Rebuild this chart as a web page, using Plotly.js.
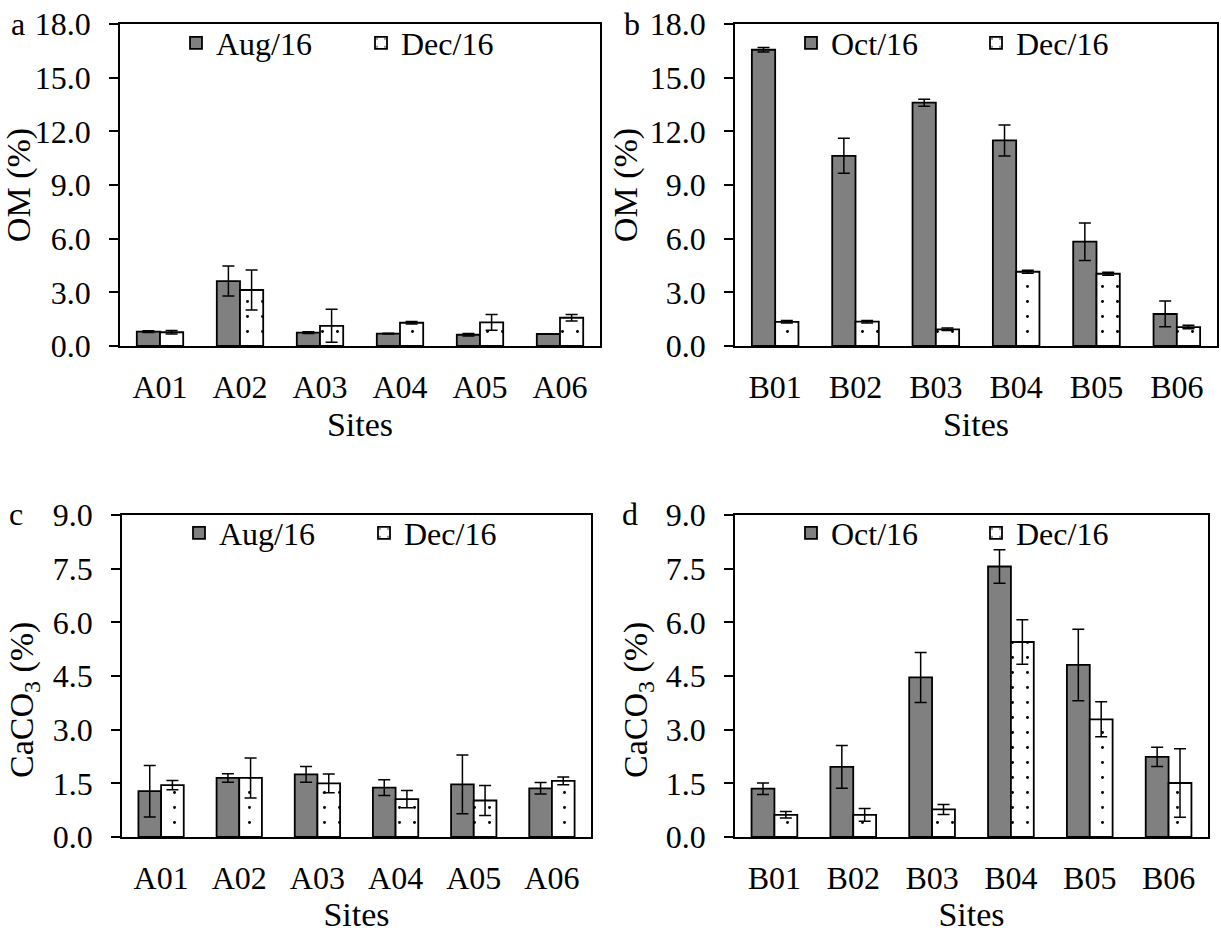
<!DOCTYPE html>
<html>
<head>
<meta charset="utf-8">
<script src="https://cdn.plot.ly/plotly-3.0.1.min.js"></script>
<style>html,body{margin:0;padding:0;background:#fff;}#chart{width:1221px;height:933px;}</style>
</head>
<body>
<div id="chart"></div>
<script>
// ---- data ----
var sitesA = ['A01', 'A02', 'A03', 'A04', 'A05', 'A06'];
var sitesB = ['B01', 'B02', 'B03', 'B04', 'B05', 'B06'];

var omAug      = [0.80, 3.63, 0.75, 0.69, 0.63, 0.67];
var omAugErr   = [0.05, 0.84, 0.05, 0.02, 0.07, 0.00];
var omDecA     = [0.77, 3.13, 1.13, 1.30, 1.32, 1.58];
var omDecAErr  = [0.10, 1.12, 0.92, 0.07, 0.44, 0.18];

var omOct      = [16.56, 10.63, 13.60, 11.49, 5.83, 1.79];
var omOctErr   = [0.13, 0.98, 0.20, 0.87, 1.05, 0.72];
var omDecB     = [1.35, 1.36, 0.93, 4.15, 4.04, 1.06];
var omDecBErr  = [0.07, 0.07, 0.07, 0.08, 0.08, 0.10];

var caAug      = [1.28, 1.65, 1.75, 1.38, 1.47, 1.36];
var caAugErr   = [0.72, 0.12, 0.22, 0.22, 0.82, 0.16];
var caDecA     = [1.45, 1.65, 1.50, 1.06, 1.02, 1.57];
var caDecAErr  = [0.13, 0.56, 0.26, 0.24, 0.42, 0.11];

var caOct      = [1.35, 1.96, 4.46, 7.56, 4.81, 2.24];
var caOctErr   = [0.16, 0.60, 0.70, 0.47, 1.00, 0.27];
var caDecB     = [0.62, 0.62, 0.77, 5.45, 3.29, 1.51];
var caDecBErr  = [0.09, 0.18, 0.14, 0.62, 0.49, 0.96];

var lblAug = 'Aug/16', lblOct = 'Oct/16', lblDec = 'Dec/16';
var titleOM = 'OM (%)';
var titleCa = 'CaCO<sub>3</sub> (%)';
var titleX = 'Sites';
var panelLetters = ['a', 'b', 'c', 'd'];

// ---- styles ----
var FONT = '"Liberation Serif", "Times New Roman", serif';
var TICK = 32, TITLE = 34;
function errY(arr) {
  return {type: 'data', array: arr, visible: true, color: '#000', thickness: 1.5, width: 6};
}
function grayBar(x, y, e, name, xa, ya, lg) {
  return {type: 'bar', x: x, y: y, name: name, xaxis: xa, yaxis: ya, legend: lg,
    marker: {color: '#808080', line: {color: '#000', width: 1.8}},
    error_y: errY(e), hoverinfo: 'x+y'};
}
function dotBar(x, y, e, name, xa, ya, lg) {
  return {type: 'bar', x: x, y: y, name: name, xaxis: xa, yaxis: ya, legend: lg,
    marker: {color: '#fff', line: {color: '#000', width: 1.8},
      pattern: {shape: '.', fgcolor: '#000', bgcolor: '#fff', size: 15, solidity: 0.03, fillmode: 'replace'}},
    error_y: errY(e), hoverinfo: 'x+y'};
}

var data = [
  grayBar(sitesA, omAug, omAugErr, lblAug, 'x', 'y', 'legend'),
  dotBar(sitesA, omDecA, omDecAErr, lblDec, 'x', 'y', 'legend'),
  grayBar(sitesB, omOct, omOctErr, lblOct, 'x2', 'y2', 'legend2'),
  dotBar(sitesB, omDecB, omDecBErr, lblDec, 'x2', 'y2', 'legend2'),
  grayBar(sitesA, caAug, caAugErr, lblAug, 'x3', 'y3', 'legend3'),
  dotBar(sitesA, caDecA, caDecAErr, lblDec, 'x3', 'y3', 'legend3'),
  grayBar(sitesB, caOct, caOctErr, lblOct, 'x4', 'y4', 'legend4'),
  dotBar(sitesB, caDecB, caDecBErr, lblDec, 'x4', 'y4', 'legend4')
];

var W = 1221, H = 933;
function px(v) { return v / W; }
function py(v) { return 1 - v / H; }

function xax(domain, anchor) {
  return {domain: domain, anchor: anchor, type: 'category',
    showline: true, linecolor: '#000', linewidth: 1.8, mirror: true,
    ticks: '', showgrid: false, zeroline: false,
    tickfont: {family: FONT, size: TICK, color: '#000'}, ticklabelstandoff: 12,
    title: {text: titleX, font: {family: FONT, size: TITLE, color: '#000'}, standoff: 8}};
}
function yax(domain, anchor, range, dtick, title) {
  var ax = {domain: domain, anchor: anchor, range: range, dtick: dtick, tick0: 0,
    tickformat: '.1f', showline: true, linecolor: '#000', linewidth: 1.8, mirror: true,
    ticks: 'outside', ticklen: 9, tickwidth: 1.8, tickcolor: '#000',
    showgrid: false, zeroline: false, ticklabelstandoff: 12,
    tickfont: {family: FONT, size: TICK, color: '#000'}};
  if (title) ax.title = {text: title, font: {family: FONT, size: TITLE, color: '#000'}, standoff: 2};
  return ax;
}
function leg(x, y) {
  return {x: x, y: y, xanchor: 'left', yanchor: 'middle', orientation: 'h',
    bgcolor: 'rgba(0,0,0,0)', borderwidth: 0, entrywidthmode: 'pixels', entrywidth: 140,
    font: {family: FONT, size: TICK, color: '#000'}, traceorder: 'normal', itemclick: false};
}
function letter(t, x, y) {
  return {text: t, x: px(x), y: py(y), xref: 'paper', yref: 'paper', xanchor: 'center', yanchor: 'middle',
    showarrow: false, font: {family: FONT, size: TICK, color: '#000'}};
}
function vTitle(t, x, y) {
  return {text: t, x: px(x), y: py(y), xref: 'paper', yref: 'paper', xanchor: 'center', yanchor: 'middle',
    textangle: -90, showarrow: false, font: {family: FONT, size: TITLE, color: '#000'}};
}

var yTop = [py(346), py(24)];
var yBot = [py(837), py(515)];

var layout = {
  width: W, height: H,
  margin: {l: 0, r: 0, t: 0, b: 0},
  paper_bgcolor: '#fff', plot_bgcolor: '#fff',
  barmode: 'group', bargap: 0.42, bargroupgap: 0,
  font: {family: FONT, color: '#000'},
  xaxis:  xax([px(120), px(600)], 'y'),
  yaxis:  yax(yTop, 'x', [0, 18], 3, titleOM),
  xaxis2: xax([px(735), px(1217)], 'y2'),
  yaxis2: yax(yTop, 'x2', [0, 18], 3, titleOM),
  xaxis3: xax([px(122), px(591)], 'y3'),
  yaxis3: yax(yBot, 'x3', [0, 9], 1.5, null),
  xaxis4: xax([px(735), px(1208)], 'y4'),
  yaxis4: yax(yBot, 'x4', [0, 9], 1.5, null),
  legend:  leg(px(176), py(43)),
  legend2: leg(px(791), py(43)),
  legend3: leg(px(179), py(533)),
  legend4: leg(px(791), py(533)),
  showlegend: true,
  annotations: [
    letter(panelLetters[0], 18, 24),
    letter(panelLetters[1], 632, 24),
    letter(panelLetters[2], 16, 514),
    letter(panelLetters[3], 630, 514),
    vTitle(titleCa, 24, 700),
    vTitle(titleCa, 638, 700)
  ]
};

Plotly.newPlot('chart', data, layout, {displayModeBar: false, staticPlot: true});
</script>
</body>
</html>
